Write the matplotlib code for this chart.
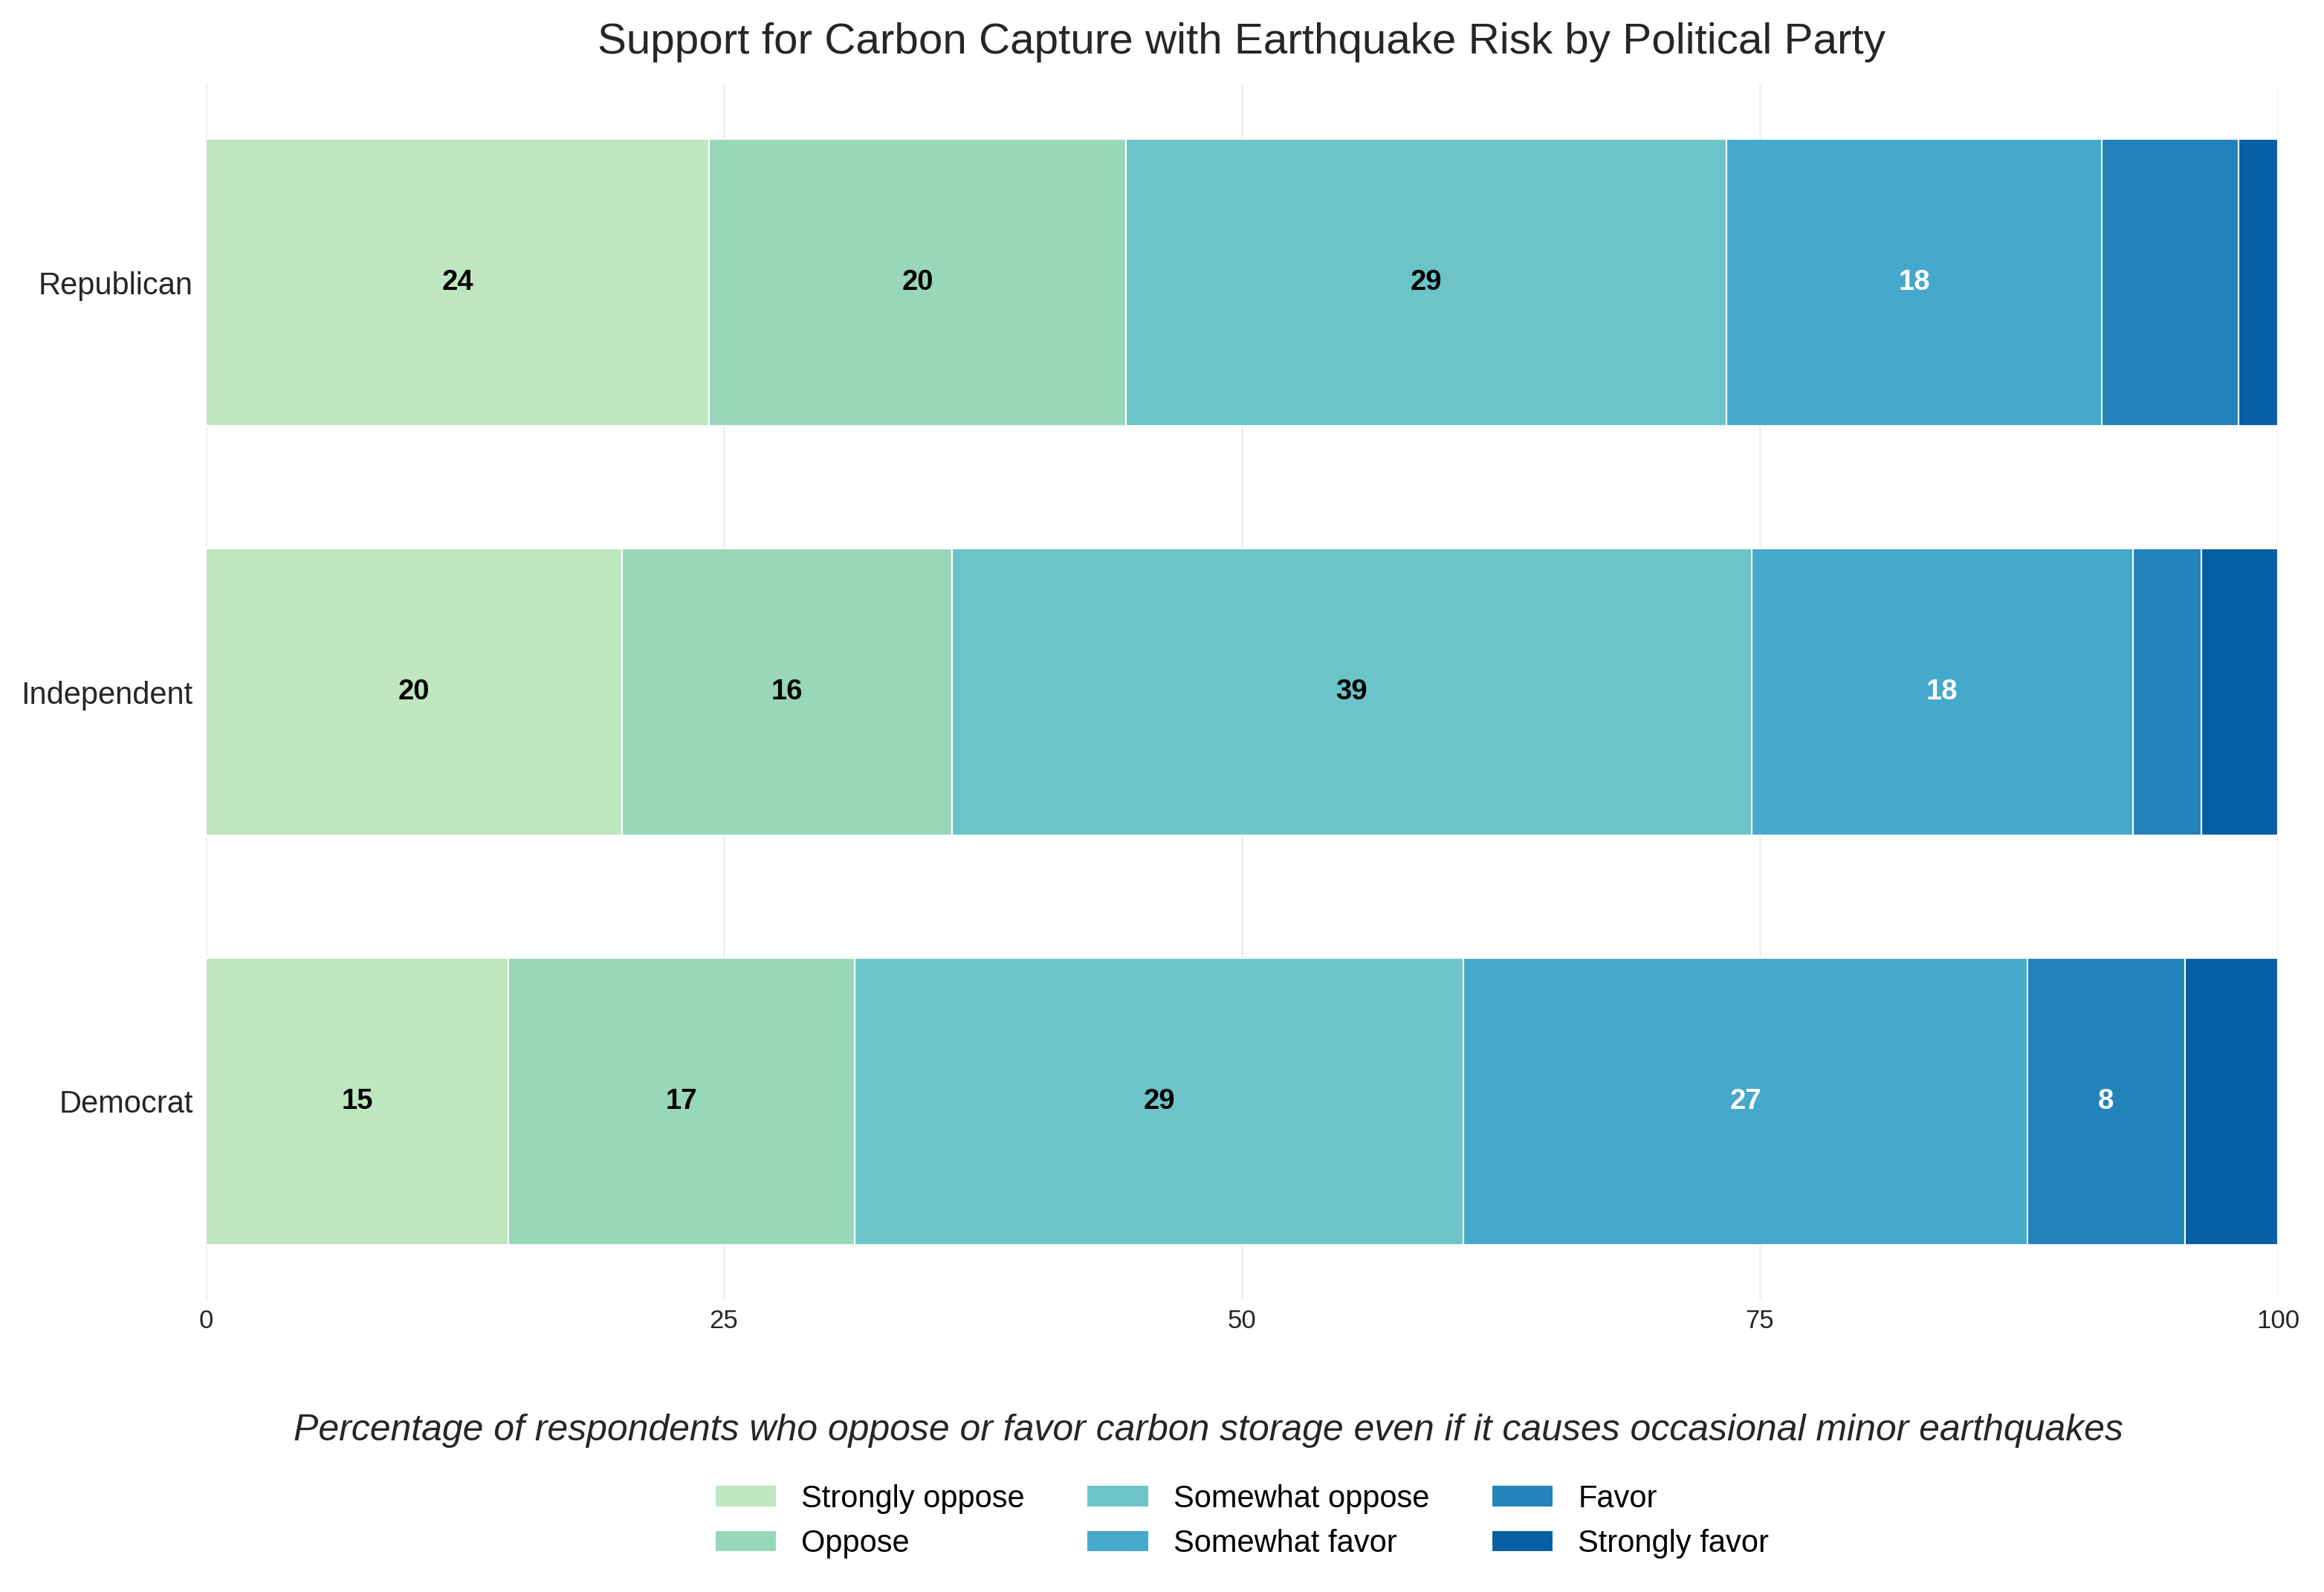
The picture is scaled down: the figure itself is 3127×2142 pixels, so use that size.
import matplotlib
matplotlib.use('Agg')
import matplotlib.pyplot as plt
import numpy as np

plt.rcParams['font.family'] = ['Liberation Sans', 'DejaVu Sans']

parties = ['Republican', 'Independent', 'Democrat']
responses = ['Strongly oppose', 'Oppose', 'Somewhat oppose',
             'Somewhat favor', 'Favor', 'Strongly favor']
republican = [24.3, 20.1, 29.0, 18.1, 6.6, 1.9]
independent = [20.1, 15.9, 38.6, 18.4, 3.3, 3.7]
democrat = [14.6, 16.7, 29.4, 27.2, 7.6, 4.5]
xticks = [0, 25, 50, 75, 100]

W, H, DPI = 3127, 2142, 250
fig = plt.figure(figsize=(W / DPI, H / DPI), dpi=DPI)
ax = fig.add_axes([277 / W, 1 - 1749 / H, (3065 - 277) / W, (1749 - 113) / H])

colors = plt.cm.GnBu(np.linspace(0.3, 0.9, 6))
data = np.array([republican, independent, democrat])
left = np.zeros(len(parties))
for j, resp in enumerate(responses):
    bars = ax.barh(parties, data[:, j], left=left, height=0.7, color=colors[j],
                   edgecolor='white', linewidth=0.6, label=resp, zorder=2)
    for bar, v in zip(bars, data[:, j]):
        if v >= 7:
            ax.text(bar.get_x() + bar.get_width() / 2, bar.get_y() + bar.get_height() / 2,
                    f'{v:.0f}', ha='center', va='center', fontsize=11, fontweight='bold',
                    color='white' if j >= 3 else 'black', zorder=3)
    left += data[:, j]

ax.invert_yaxis()
ax.set_xlim(0, 100)
ax.set_xticks(xticks)
ax.grid(axis='x', color='#efefef', linewidth=0.8)
ax.set_axisbelow(True)
for s in ax.spines.values():
    s.set_visible(False)
ax.tick_params(axis='y', length=0, pad=5, labelsize=12, labelcolor='#262626')
ax.tick_params(axis='x', length=0, pad=3.5, labelsize=10, labelcolor='#262626')

fig.text(1671 / W, 1 - 72 / H, 'Support for Carbon Capture with Earthquake Risk by Political Party',
         ha='center', va='baseline', fontsize=16.8, color='#262626')
fig.text(0.52, 1 - 1938 / H,
         'Percentage of respondents who oppose or favor carbon storage even if it causes occasional minor earthquakes',
         ha='center', va='baseline', fontsize=14.4, style='italic', color='#262626')
fig.legend(loc='center', bbox_to_anchor=(1671 / W, 1 - 2047 / H), ncol=3,
           frameon=False, fontsize=12)

fig.savefig('out.png', dpi=DPI)
